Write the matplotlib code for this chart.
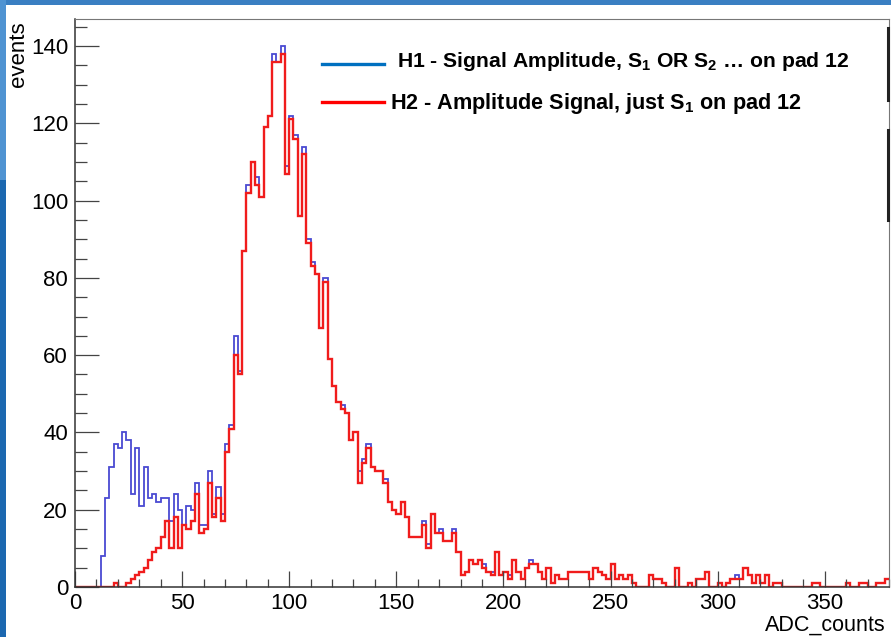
import numpy as np
import matplotlib.pyplot as plt
from matplotlib.lines import Line2D
from matplotlib.patches import Rectangle
from matplotlib.ticker import MultipleLocator

plt.rcParams['font.family'] = ['Liberation Sans', 'DejaVu Sans']
plt.rcParams['mathtext.fontset'] = 'custom'
plt.rcParams['mathtext.rm'] = 'Liberation Sans'
plt.rcParams['mathtext.bf'] = 'Liberation Sans:bold'

# 2 ADC-count wide bins from 0 to 380
edges = np.arange(0, 382, 2)

# H1 - S1 OR S2 (one row = 10 bins = 20 ADC counts)
h1 = [0, 0, 0, 0, 0, 0, 8, 23, 31, 37,
      36, 40, 38, 24, 36, 21, 31, 23, 24, 22,
      23, 23, 17, 24, 20, 16, 21, 20, 27, 16,
      16, 30, 19, 26, 19, 37, 42, 65, 56, 87,
      104, 110, 106, 101, 119, 122, 138, 136, 140, 109,
      122, 117, 96, 114, 90, 84, 81, 67, 80, 59,
      52, 48, 47, 45, 38, 40, 30, 33, 37, 31,
      30, 30, 28, 22, 20, 19, 22, 18, 13, 13,
      13, 17, 11, 19, 14, 15, 12, 12, 15, 9,
      3, 4, 7, 6, 7, 6, 4, 4, 9, 3,
      4, 3, 7, 4, 2, 5, 7, 6, 4, 2,
      5, 1, 3, 2, 2, 4, 4, 4, 4, 4,
      2, 5, 4, 3, 2, 6, 2, 3, 2, 3,
      1, 0, 0, 0, 3, 2, 2, 1, 0, 0,
      5, 0, 0, 1, 0, 2, 2, 4, 0, 0,
      1, 0, 1, 2, 3, 2, 5, 3, 1, 3,
      1, 3, 0, 1, 1, 0, 0, 0, 0, 0,
      0, 0, 1, 1, 0, 0, 0, 0, 0, 0,
      1, 0, 0, 1, 1, 0, 0, 1, 1, 2]

# H2 - just S1
h2 = [0, 0, 0, 0, 0, 0, 0, 0, 0, 1,
      0, 0, 1, 2, 3, 4, 5, 7, 9, 10,
      13, 17, 10, 18, 10, 16, 15, 17, 24, 14,
      15, 27, 18, 23, 17, 35, 41, 60, 55, 87,
      102, 110, 104, 101, 119, 122, 136, 136, 138, 107,
      121, 116, 96, 112, 89, 83, 81, 67, 79, 59,
      52, 48, 46, 45, 38, 40, 27, 32, 36, 31,
      30, 30, 27, 22, 20, 19, 22, 18, 13, 13,
      13, 16, 10, 19, 14, 14, 12, 12, 14, 9,
      3, 4, 7, 6, 7, 5, 4, 3, 9, 3,
      4, 2, 7, 4, 2, 5, 6, 6, 4, 2,
      5, 1, 3, 2, 2, 4, 4, 4, 4, 4,
      2, 5, 4, 3, 2, 6, 2, 3, 2, 3,
      1, 0, 0, 0, 3, 2, 2, 1, 0, 0,
      5, 0, 0, 1, 0, 2, 2, 4, 0, 0,
      1, 0, 1, 2, 2, 2, 5, 3, 1, 3,
      1, 3, 0, 1, 1, 0, 0, 0, 0, 0,
      0, 0, 1, 1, 0, 0, 0, 0, 0, 0,
      1, 0, 0, 1, 1, 0, 0, 1, 1, 2]

label1 = r'H1 - Signal Amplitude, S$_\mathbf{1}$ OR S$_\mathbf{2}$ … on pad 12'
label2 = r'H2 - Amplitude Signal, just S$_\mathbf{1}$ on pad 12'

W, H = 891, 637
fig = plt.figure(figsize=(W / 100, H / 100), dpi=100)
ax = fig.add_axes([75 / W, 1 - 587 / H, 814 / W, 568 / H])

ax.stairs(h1, edges, color='#4a4ad2', lw=1.3, baseline=None)
ax.stairs(h2, edges, color='#f01c1c', lw=1.7, baseline=None)

ax.set_xlim(0, 380)
ax.set_ylim(0, 147)

ax.xaxis.set_major_locator(MultipleLocator(50))
ax.xaxis.set_minor_locator(MultipleLocator(10))
ax.yaxis.set_major_locator(MultipleLocator(20))
ax.yaxis.set_minor_locator(MultipleLocator(5))

ax.tick_params(axis='x', which='major', direction='in', length=11.5, width=0.9,
               color='#444444', labelsize=16, pad=4)
ax.tick_params(axis='x', which='minor', direction='in', length=5.8, width=0.9,
               color='#444444')
ax.tick_params(axis='y', which='major', direction='in', length=17, width=0.9,
               color='#444444', labelsize=16, pad=5)
ax.tick_params(axis='y', which='minor', direction='in', length=8.6, width=0.9,
               color='#444444')

for side in ['left', 'bottom']:
    ax.spines[side].set_color('#333333')
    ax.spines[side].set_linewidth(1.1)
for side in ['top', 'right']:
    ax.spines[side].set_color('#777777')
    ax.spines[side].set_linewidth(0.8)

ax.text(0.996, -0.0775, 'ADC_counts', transform=ax.transAxes, ha='right',
        va='baseline', fontsize=15.5)
ax.text(-0.069, 0.995, 'events', transform=ax.transAxes, rotation=90,
        ha='center', va='top', fontsize=16)

# legend drawn like the slide overlay
fig.add_artist(Line2D([322 / W, 384 / W], [1 - 64 / H, 1 - 64 / H],
                      color='#0070c0', lw=2.4))
fig.add_artist(Line2D([322 / W, 384 / W], [1 - 102 / H, 1 - 102 / H],
                      color='#ff0000', lw=2.4))
fig.text(397 / W, 1 - 67 / H, label1, fontsize=15.2, fontweight='bold',
         ha='left', va='baseline')
fig.text(390 / W, 1 - 109 / H, label2, fontsize=15.6, fontweight='bold',
         ha='left', va='baseline')

# right edge of the box behind
fig.add_artist(Line2D([887.5 / W] * 2, [1 - 28 / H, 1 - 100 / H], color='#222222', lw=2.2))
fig.add_artist(Line2D([887.5 / W] * 2, [1 - 130 / H, 1 - 220 / H], color='#222222', lw=2.2))

# slide border strips
fig.add_artist(Rectangle((0, 1 - 5 / H), 1, 5 / H, transform=fig.transFigure,
                         color='#3a7fc2', lw=0))
fig.add_artist(Rectangle((0, 1 - 180 / H), 6 / W, 180 / H, transform=fig.transFigure,
                         color='#4f93d2', lw=0))
fig.add_artist(Rectangle((0, 0), 6 / W, 1 - 180 / H, transform=fig.transFigure,
                         color='#1c68b0', lw=0))

fig.savefig('out.png', dpi=100)
